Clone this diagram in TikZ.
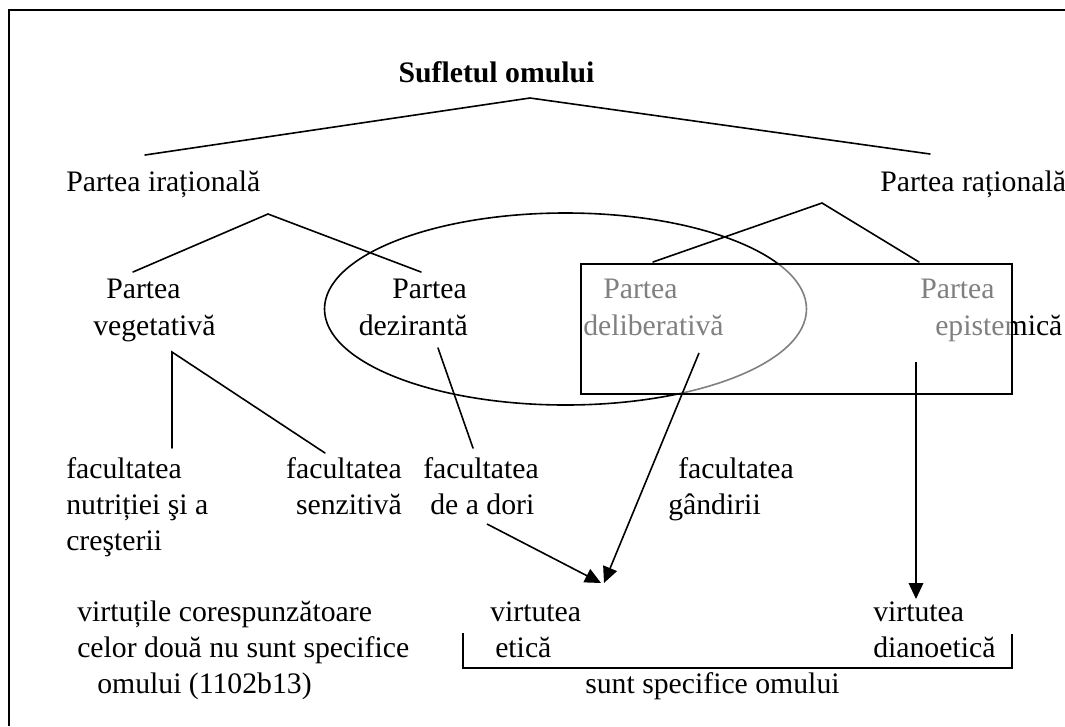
\documentclass[tikz,border=0pt]{standalone}
\usepackage{fontspec}
\setmainfont{Liberation Serif}
\usetikzlibrary{arrows.meta}
\begin{document}
\begin{tikzpicture}[x=0.75pt,y=-0.75pt,
  txt/.style={inner sep=0pt, font=\fontsize{22.3}{26}\selectfont},
  lbl/.style={txt, anchor=base west},
  lblr/.style={txt, anchor=base east},
  conn/.style={line width=1.2pt, line cap=round},
  arr/.style={line width=1.2pt, -{Triangle[length=12pt,width=11pt]}},
  frame/.style={line width=1.1pt},
]
\useasboundingbox (0,0) rectangle (1065,726);
\fill[white] (0,0) rectangle (1065,726);
% outer frame (cropped at right and bottom)
\draw[frame] (1065,10) -- (9,10) -- (9,726);

% ellipse (drawn below the box overlay)
\draw[line width=1.2pt] (565.5,309) ellipse [x radius=241, y radius=96];

% texts
\node[txt, anchor=base, font=\fontsize{22.3}{26}\selectfont\bfseries] (suflet) at (496.5,82) {Sufletul omului};
\node[lbl] (irat) at (66,191) {Partea irațională};
\node[lbl] (rat) at (880,191) {Partea rațională};

\node[lbl] (veg1) at (106,298) {Partea};
\node[lbl] (veg2) at (93,335) {vegetativă};
\node[lblr] (dez1) at (467,298) {Partea};
\node[lblr] (dez2) at (468,335) {dezirantă};
\node[lbl] (del1) at (603,298) {Partea};
\node[lbl] (del2) at (583,335) {deliberativă};
\node[lbl] (epi1) at (920,298) {Partea};
\node[lbl] (epi2) at (935,335) {epistemică};

\node[lbl] (fn1) at (66,478) {facultatea};
\node[lbl] (fn2) at (66,514) {nutriției şi a};
\node[lbl] (fn3) at (66,550) {creşterii};
\node[lblr] (fs1) at (402,478) {facultatea};
\node[lblr] (fs2) at (402,514) {senzitivă};
\node[lbl] (fd1) at (423,478) {facultatea};
\node[lbl] (fd2) at (430,514) {de a dori};
\node[lbl] (fg1) at (678,478) {facultatea};
\node[lbl] (fg2) at (668,514) {gândirii};

\node[lbl] (vc1) at (77,621) {virtuțile corespunzătoare};
\node[lbl] (vc2) at (77,657) {celor două nu sunt specifice};
\node[lbl] (vc3) at (97,693) {omului (1102b13)};
\node[lbl] (ve1) at (490,621) {virtutea};
\node[lbl] (ve2) at (495,657) {etică};
\node[lbl] (vd1) at (873,621) {virtutea};
\node[lbl] (vd2) at (873,657) {dianoetică};
\node[lbl] (spec) at (585,693) {sunt specifice omului};

% semi-transparent box: greys what lies beneath it
\fill[white, opacity=0.5] (581,264) rectangle (1012,394);
\draw[line width=1.1pt] (581,264) rectangle (1012,394);

% connector endpoints
\coordinate (a0) at (530,98);
\coordinate (a0l) at (145,155);
\coordinate (a0r) at (930,154);
\coordinate (aL) at (268,214);
\coordinate (aLl) at (133,272);
\coordinate (aLr) at (421,272);
\coordinate (aR) at (822,203);
\coordinate (aRl) at (653,262);
\coordinate (aRr) at (919,262);
\coordinate (vg) at (172,352);
\coordinate (vgA) at (172,448);
\coordinate (vgB) at (325,453);
\coordinate (dzA) at (438,348);
\coordinate (dzB) at (473,448);
\coordinate (doA) at (487,524);
\coordinate (etT1) at (601,583);
\coordinate (dlA) at (699,353);
\coordinate (etT2) at (604,583);
\coordinate (epA) at (916,362);
\coordinate (diT) at (916,599);
\coordinate (b1) at (463,633);
\coordinate (b2) at (463,668);
\coordinate (b3) at (1012,668);
\coordinate (b4) at (1012,634);

\draw[conn] (a0l) -- (a0) -- (a0r);
\draw[conn] (aLl) -- (aL) -- (aLr);
\draw[conn] (aRl) -- (aR) -- (aRr);
\draw[conn] (vgA) -- (vg) -- (vgB);
\draw[conn] (dzA) -- (dzB);
\draw[arr] (doA) -- (etT1);
\draw[arr] (dlA) -- (etT2);
\draw[arr] (epA) -- (diT);
\draw[line width=1.1pt] (b1) -- (b2) -- (b3) -- (b4);
\end{tikzpicture}
\end{document}
